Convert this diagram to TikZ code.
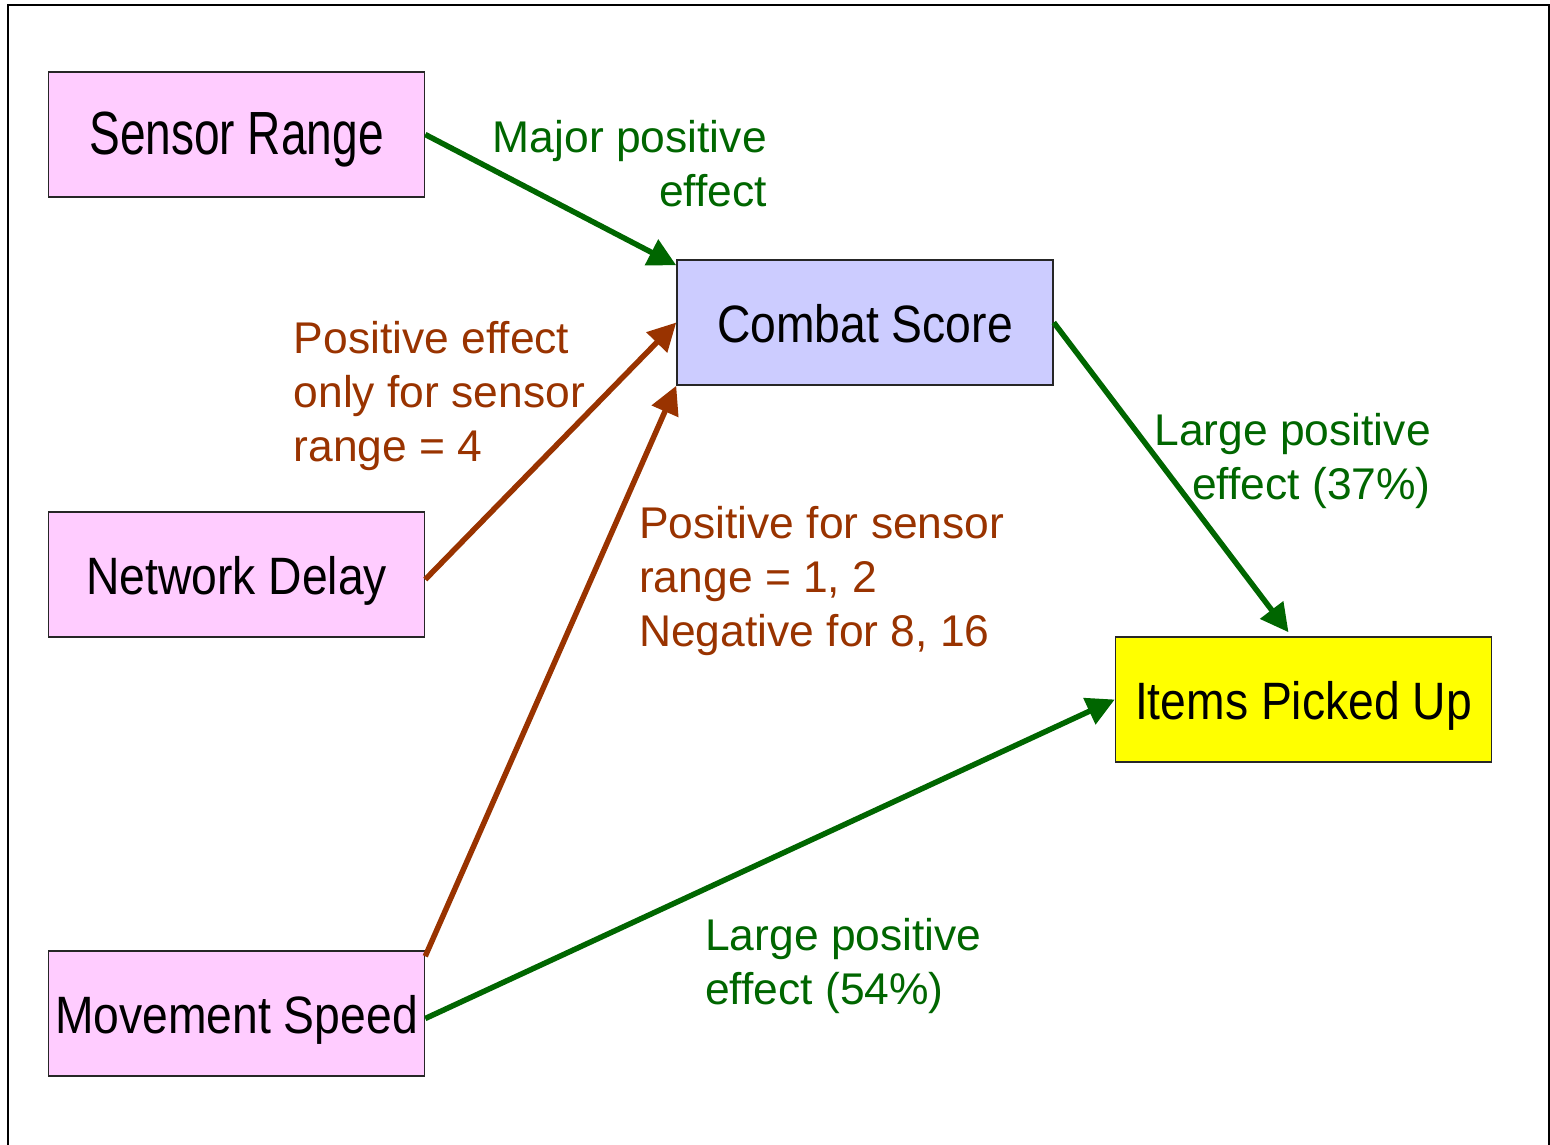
\documentclass[tikz,border=0pt]{standalone}
\usepackage{fontspec}
\setmainfont{Liberation Sans}
\newfontfamily\boxfont[FakeStretch=0.88]{Liberation Sans}
\newfontfamily\srfont[FakeStretch=0.755]{Liberation Sans}
\usetikzlibrary{arrows.meta}
\definecolor{effgreen}{HTML}{006600}
\definecolor{effbrown}{HTML}{993300}
\definecolor{boxpink}{HTML}{FFCCFF}
\definecolor{boxblue}{HTML}{CCCCFF}
\definecolor{boxyellow}{HTML}{FFFF00}
\tikzset{
  varbox/.style={draw=black!85, line width=1.5pt, minimum width=376pt, minimum height=125pt,
    inner sep=0pt, text height=39pt, text depth=0pt,
    font=\boxfont\fontsize{52.6}{60}\selectfont},
  effarrow/.style={line width=5.5pt, -{Triangle[length=28pt,width=28pt]}},
  posarrow/.style={effarrow, draw=effgreen, fill=effgreen},
  condarrow/.style={effarrow, draw=effbrown, fill=effbrown},
  efflabel/.style={inner sep=0pt, font=\fontsize{44.4}{54}\selectfont},
}
\begin{document}
\begin{tikzpicture}[x=1pt,y=-1pt]
\useasboundingbox (0,0) rectangle (1550,1145);
\begin{scope}
\clip (0,0) rectangle (1550,1145);
\draw[line width=1.5pt, black] (8,5) rectangle (1549,1175);
\end{scope}

\node[varbox, fill=boxpink, font=\srfont\fontsize{61}{66}\selectfont] (SR) at (236.5,134.5) {Sensor Range};
\node[varbox, fill=boxpink] (ND) at (236.5,574.5) {Network Delay};
\node[varbox, fill=boxpink] (MS) at (236.5,1013.5) {Movement Speed};
\node[varbox, fill=boxblue] (CS) at (865,322.5) {Combat Score};
\node[varbox, fill=boxyellow] (IP) at (1303.5,699.5) {Items Picked Up};

\draw[posarrow] (SR.east) -- ([yshift=-6pt]CS.north west);
\draw[condarrow] ([yshift=-5pt]ND.east) -- (CS.west);
\draw[condarrow] ([yshift=-6pt]MS.north east) -- (CS.south west);
\draw[posarrow] (CS.east) -- ([xshift=-15pt,yshift=4pt]IP.north);
\draw[posarrow] ([yshift=-5pt]MS.east) -- (IP.west);

\node[efflabel, text=effgreen, anchor=base east] (L1) at (767,153)
  {\begin{tabular}[t]{@{}r@{}}Major positive\\effect\end{tabular}};
\node[efflabel, text=effbrown, anchor=base west] (L2) at (293.5,353)
  {\begin{tabular}[t]{@{}l@{}}Positive effect\\only for sensor\\range = 4\end{tabular}};
\node[efflabel, text=effbrown, anchor=base west] (L3) at (639,538)
  {\begin{tabular}[t]{@{}l@{}}Positive for sensor\\range = 1, 2\\Negative for 8, 16\end{tabular}};
\node[efflabel, text=effgreen, anchor=base east] (L4) at (1431,445)
  {\begin{tabular}[t]{@{}r@{}}Large positive\\effect (37\%)\end{tabular}};
\node[efflabel, text=effgreen, anchor=base west] (L5) at (705,950)
  {\begin{tabular}[t]{@{}l@{}}Large positive\\effect (54\%)\end{tabular}};
\end{tikzpicture}
\end{document}
